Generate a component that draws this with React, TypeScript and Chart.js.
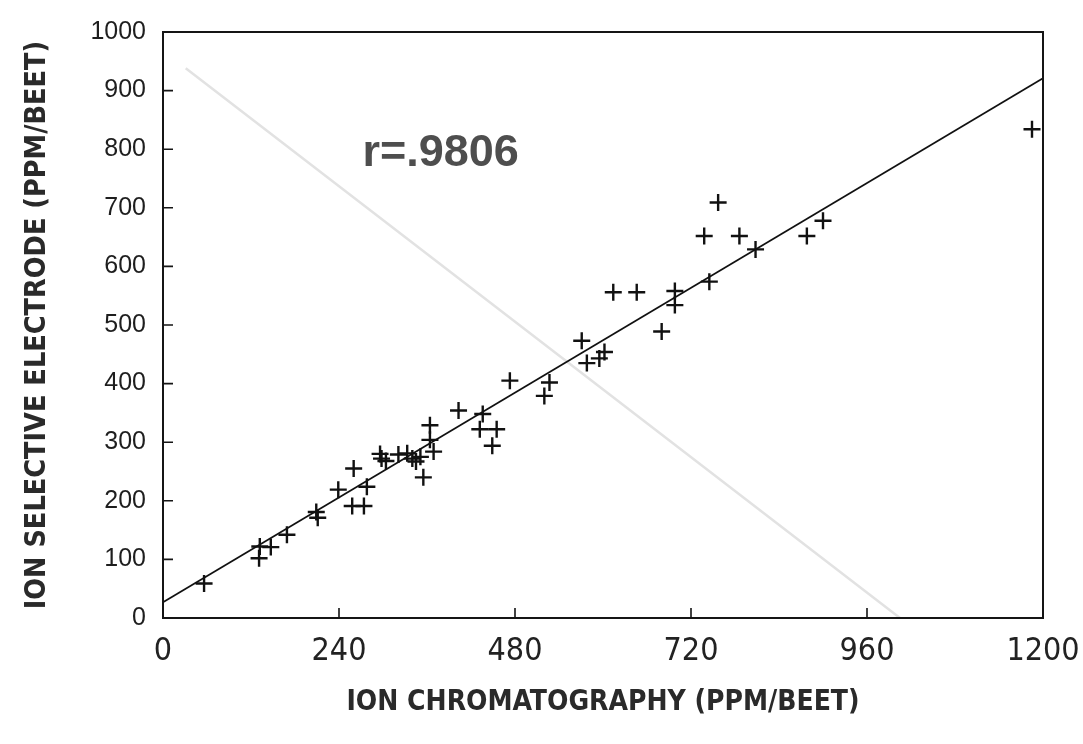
import React, { useEffect, useRef } from "react";
import { Chart, registerables } from "chart.js";

Chart.register(...registerables);

// Ion chromatography (x) vs ion selective electrode (y), PPM/BEET
const icValues = [
  56, 131, 132, 147, 169, 209, 211, 239, 260, 258, 274, 278, 296, 298, 304,
  321, 333, 340, 345, 351, 355, 364, 364, 369, 403, 436, 432, 455, 449, 473,
  527, 520, 571, 578, 595, 602, 614, 646, 680, 698, 698, 738, 757, 745, 786,
  808, 878, 900, 1185,
];
const iseValues = [
  59, 102, 122, 121, 142, 181, 171, 219, 255, 191, 191, 224, 280, 272, 268,
  279, 281, 272, 267, 275, 240, 329, 304, 284, 354, 348, 322, 322, 294, 405,
  402, 379, 473, 435, 443, 454, 556, 556, 489, 558, 534, 652, 709, 574, 652,
  629, 652, 678, 834,
];

// regression line end points
const fitX = [0, 1200];
const fitY = [27, 921];

// faint bleed-through line from the reverse side of the page
const ghostX = [31, 1005];
const ghostY = [938, 0];

const xTickValues = [0, 240, 480, 720, 960, 1200];
const yTickValues = [0, 100, 200, 300, 400, 500, 600, 700, 800, 900, 1000];

const xTitle = "ION CHROMATOGRAPHY (PPM/BEET)";
const yTitle = "ION SELECTIVE ELECTRODE (PPM/BEET)";
const rLabel = "r=.9806";
const rLabelAt = [272, 793];

const NARROW = "'Liberation Sans Narrow', 'DejaVu Sans Condensed', 'Liberation Sans', Arial, sans-serif";
const SANS = "'Liberation Sans', Arial, Helvetica, sans-serif";

const framePlugin = {
  id: "frameAndTicks",
  afterDatasetsDraw(chart: any) {
    const { ctx, chartArea, scales } = chart;
    const { left, right, top, bottom } = chartArea;
    const xs = scales.x;
    const ys = scales.y;
    ctx.save();
    ctx.strokeStyle = "#151515";
    ctx.lineWidth = 2;
    ctx.strokeRect(left, top, right - left, bottom - top);
    ctx.lineWidth = 1.6;
    ctx.beginPath();
    xTickValues.forEach((v) => {
      const px = xs.getPixelForValue(v);
      ctx.moveTo(px, bottom);
      ctx.lineTo(px, bottom - 10);
    });
    yTickValues.forEach((v) => {
      const py = ys.getPixelForValue(v);
      ctx.moveTo(left, py);
      ctx.lineTo(left + 10, py);
    });
    ctx.stroke();
    ctx.font = `bold 45px ${SANS}`;
    ctx.fillStyle = "#4e4e4e";
    ctx.textAlign = "left";
    ctx.textBaseline = "middle";
    ctx.fillText(rLabel, xs.getPixelForValue(rLabelAt[0]), ys.getPixelForValue(rLabelAt[1]));
    ctx.restore();
  },
};

export default function App() {
  const canvasRef = useRef<HTMLCanvasElement | null>(null);

  useEffect(() => {
    const canvas = canvasRef.current;
    if (!canvas) return;
    const chart = new Chart(canvas, {
      type: "scatter",
      data: {
        datasets: [
          {
            type: "line",
            data: ghostX.map((x, i) => ({ x, y: ghostY[i] })),
            borderColor: "#e2e2e2",
            borderWidth: 2.5,
            pointRadius: 0,
            fill: false,
            order: 3,
          } as any,
          {
            type: "line",
            data: fitX.map((x, i) => ({ x, y: fitY[i] })),
            borderColor: "#111",
            borderWidth: 1.8,
            pointRadius: 0,
            fill: false,
            order: 2,
          } as any,
          {
            data: icValues.map((x, i) => ({ x, y: iseValues[i] })),
            pointStyle: "cross",
            pointRadius: 8.5,
            pointBorderWidth: 2.4,
            borderColor: "#111",
            backgroundColor: "#111",
            order: 1,
          },
        ],
      },
      options: {
        animation: false,
        responsive: true,
        maintainAspectRatio: false,
        layout: { padding: { left: 0, top: 32, right: 40, bottom: 0 } },
        plugins: {
          legend: { display: false },
          tooltip: { enabled: false },
        },
        scales: {
          x: {
            type: "linear",
            min: 0,
            max: 1200,
            afterBuildTicks: (scale: any) => {
              scale.ticks = xTickValues.map((v) => ({ value: v }));
            },
            afterFit: (scale: any) => {
              scale.height = 126;
              scale.paddingLeft = 0;
              scale.paddingRight = 0;
            },
            grid: { display: false },
            border: { display: false },
            ticks: {
              color: "#222",
              padding: 6,
              maxRotation: 0,
              font: { family: NARROW, size: 32 },
              callback: (v: any) => String(v),
            },
            title: {
              display: true,
              text: xTitle,
              color: "#2a2a2a",
              font: { family: NARROW, size: 28, weight: "bold" },
              padding: { top: 0, bottom: 24 },
            },
          },
          y: {
            type: "linear",
            min: 0,
            max: 1000,
            afterBuildTicks: (scale: any) => {
              scale.ticks = yTickValues.map((v) => ({ value: v }));
            },
            afterFit: (scale: any) => {
              scale.width = 163;
            },
            grid: { display: false },
            border: { display: false },
            ticks: {
              color: "#1e1e1e",
              padding: 9,
              font: { family: SANS, size: 25 },
              callback: (v: any) => String(v),
            },
            title: {
              display: true,
              text: yTitle,
              color: "#2a2a2a",
              font: { family: NARROW, size: 28.5, weight: "bold" },
              padding: { top: 20, bottom: 0 },
            },
          },
        },
      },
      plugins: [framePlugin],
    });
    return () => chart.destroy();
  }, []);

  return (
    <div
      style={{
        position: "fixed",
        left: 0,
        top: 0,
        width: 1083,
        height: 744,
        background: "#ffffff",
      }}
    >
      <canvas ref={canvasRef} />
    </div>
  );
}
